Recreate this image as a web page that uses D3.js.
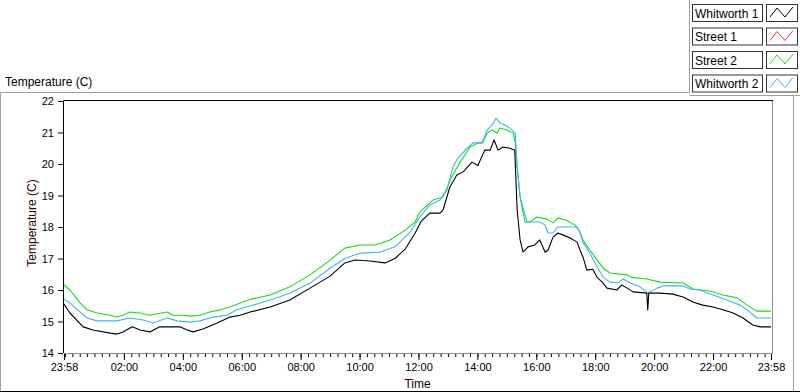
<!DOCTYPE html>
<html>
<head>
<meta charset="utf-8">
<script src="https://cdn.jsdelivr.net/npm/d3@7"></script>
<style>
  body { margin: 0; background: #fff; }
  svg { display: block; font-family: "Liberation Sans", Arial, sans-serif; }
</style>
</head>
<body>
<svg id="chart" width="800" height="392"></svg>
<script>
// series names + colours, in legend order
const seriesNames = ["Whitworth 1", "Street 1", "Street 2", "Whitworth 2"]
const seriesColors = ["#000000", "#ff3030", "#11e011", "#3cb4f5"]

// [minutes after midnight, temperature C]; start is 23:58 the night before (-2)
const whitworth1 = [
  [-2,15.55],[10,15.27],[37,14.83],[57,14.73],[92,14.63],[106,14.6],[118,14.67],[137,14.83],
  [153,14.73],[173,14.67],[193,14.83],[214,14.83],[234,14.83],[249,14.73],[261,14.67],[281,14.76],
  [310,14.95],[336,15.14],[357,15.2],[377,15.3],[418,15.46],[458,15.68],[499,16.06],[540,16.44],
  [570,16.86],[591,16.95],[621,16.92],[652,16.86],[672,17.0],[693,17.3],[713,17.8],[725,18.17],
  [743,18.44],[764,18.44],[770,18.54],[784,19.27],[798,19.65],[811,19.75],[829,20.06],[841,19.95],
  [855,20.44],[866,20.44],[874,20.76],[882,20.44],[892,20.54],[906,20.5],[916,20.44],[921,18.54],
  [927,17.59],[933,17.2],[943,17.37],[957,17.43],[967,17.59],[978,17.2],[984,17.27],[994,17.68],
  [1004,17.81],[1014,17.75],[1029,17.65],[1043,17.52],[1049,17.27],[1055,17.05],[1063,16.63],[1075,16.66],
  [1084,16.4],[1096,16.22],[1104,16.06],[1124,16.0],[1134,16.16],[1145,16.06],[1157,15.94],[1185,15.9],
  [1187,15.37],[1189,15.9],[1198,15.9],[1212,15.9],[1238,15.87],[1259,15.78],[1279,15.62],[1299,15.52],
  [1320,15.46],[1340,15.37],[1361,15.27],[1381,15.11],[1401,14.89],[1416,14.83],[1438,14.83]
]
// no Street 1 readings show on the graph
const street1 = []
const street2 = [
  [-2,16.16],[10,16.0],[31,15.59],[45,15.37],[65,15.27],[92,15.2],[106,15.14],[118,15.2],
  [132,15.3],[153,15.27],[173,15.2],[208,15.3],[220,15.2],[240,15.2],[255,15.17],[275,15.2],
  [295,15.3],[316,15.37],[336,15.46],[357,15.59],[377,15.7],[418,15.84],[458,16.1],[499,16.48],
  [540,16.95],[570,17.33],[601,17.43],[631,17.43],[662,17.59],[693,17.9],[713,18.16],[723,18.48],
  [750,18.86],[770,18.95],[788,19.6],[805,20.06],[825,20.54],[841,20.67],[851,20.67],[860,20.98],
  [870,21.08],[880,20.98],[886,21.14],[900,21.08],[913,20.98],[917,20.67],[921,19.9],[927,18.95],
  [937,18.16],[947,18.16],[961,18.32],[982,18.25],[994,18.13],[1004,18.29],[1023,18.2],[1039,18.06],
  [1049,17.84],[1055,17.59],[1069,17.27],[1084,16.95],[1096,16.7],[1110,16.54],[1145,16.48],[1155,16.4],
  [1185,16.35],[1212,16.25],[1259,16.22],[1279,16.03],[1314,15.97],[1340,15.84],[1369,15.75],[1389,15.52],
  [1409,15.33],[1438,15.33]
]
const whitworth2 = [
  [-2,15.71],[10,15.59],[31,15.3],[45,15.11],[65,15.02],[106,15.02],[132,15.11],[159,15.05],
  [179,14.95],[208,15.11],[228,15.02],[255,14.98],[275,15.02],[302,15.14],[330,15.2],[350,15.37],
  [377,15.49],[418,15.68],[458,15.9],[499,16.22],[540,16.7],[570,17.0],[601,17.17],[641,17.2],
  [672,17.37],[703,17.84],[723,18.32],[743,18.7],[764,18.86],[778,19.17],[790,19.9],[800,20.19],
  [819,20.5],[831,20.67],[849,20.67],[860,21.08],[870,21.24],[878,21.46],[886,21.3],[896,21.24],
  [906,21.14],[917,20.98],[921,19.9],[927,18.95],[941,18.16],[967,18.16],[978,18.06],[984,17.81],
  [994,17.81],[1004,18.0],[1043,18.0],[1049,17.84],[1055,17.52],[1069,17.17],[1084,16.73],[1096,16.41],
  [1110,16.25],[1126,16.22],[1137,16.35],[1151,16.22],[1171,16.1],[1187,15.9],[1206,16.06],[1218,16.13],
  [1259,16.13],[1273,16.03],[1293,16.0],[1320,15.84],[1348,15.68],[1375,15.52],[1395,15.3],[1409,15.11],
  [1438,15.11]
]

// axis ticks
const yTicks = [14, 15, 16, 17, 18, 19, 20, 21, 22]
const xMajorTicks = [-2, 120, 240, 360, 480, 600, 720, 840, 960, 1080, 1200, 1320, 1438]
const xMinorTicks = d3.range(0, 1440, 15)

const series = [whitworth1, street1, street2, whitworth2]

const svg = d3.select("#chart")
const plot = {left: 64, top: 101, right: 771, bottom: 353}

const x = d3.scaleLinear().domain([-2, 1438]).range([plot.left, plot.right])
const y = d3.scaleLinear().domain([14, 22]).range([plot.bottom, plot.top])

const pad = n => String(n).padStart(2, "0")
const clock = m => {
  const t = (m + 1440) % 1440
  return pad(Math.floor(t / 60)) + ":" + pad(t % 60)
}

// outer frame
svg.append("path").attr("d", "M0.5,392 V92.5 H689.5 V0").attr("fill", "none").attr("stroke", "#a0a0a0")
svg.append("path").attr("d", "M689.5,95.5 H800").attr("fill", "none").attr("stroke", "#a0a0a0")
svg.append("line").attr("x1", 793.5).attr("x2", 793.5).attr("y1", 95).attr("y2", 392).attr("stroke", "#a0a0a0")
svg.append("line").attr("x1", 0).attr("x2", 800).attr("y1", 391.5).attr("y2", 391.5).attr("stroke", "#000")

svg.append("text").attr("x", 5).attr("y", 86).attr("font-size", 12).attr("fill", "#000").text("Temperature (C)")

// plot box: white, dark top/left, grey right/bottom
svg.append("rect").attr("x", plot.left).attr("y", plot.top).attr("width", plot.right - plot.left + 1)
  .attr("height", plot.bottom - plot.top).attr("fill", "#fff")
svg.append("path").attr("d", `M${plot.right + 1.5},${plot.top} V${plot.bottom + 0.5} H${plot.left}`)
  .attr("fill", "none").attr("stroke", "#8c8c8c")
svg.append("path").attr("d", `M${plot.left - 0.5},${plot.bottom} V${plot.top - 0.5} H${plot.right + 2}`)
  .attr("fill", "none").attr("stroke", "#000")

// lines
const line = d3.line().x(d => x(d[0])).y(d => y(d[1]))
const drawOrder = [1, 2, 3, 0]
svg.append("g").selectAll("path").data(drawOrder).join("path")
  .attr("d", i => series[i].length ? line(series[i]) : null)
  .attr("fill", "none")
  .attr("stroke", i => seriesColors[i])
  .attr("stroke-width", 1.1)
  .attr("stroke-linejoin", "round")

// y axis
const yAxis = svg.append("g").attr("transform", `translate(${plot.left - 1},0)`)
  .call(d3.axisLeft(y).tickValues(yTicks).tickSize(5).tickPadding(4).tickFormat(d3.format("d")))
yAxis.select(".domain").remove()
yAxis.selectAll("text").attr("font-size", 11).attr("font-family", "Liberation Sans, Arial").attr("fill", "#000")

// x axis, minor then major
const xMinor = svg.append("g").attr("transform", `translate(0,${plot.bottom + 1})`)
  .call(d3.axisBottom(x).tickValues(xMinorTicks).tickSize(3).tickFormat(""))
xMinor.select(".domain").remove()
const xAxis = svg.append("g").attr("transform", `translate(0,${plot.bottom + 1})`)
  .call(d3.axisBottom(x).tickValues(xMajorTicks).tickSize(6).tickPadding(3).tickFormat(clock))
xAxis.select(".domain").remove()
xAxis.selectAll("text").attr("font-size", 11).attr("font-family", "Liberation Sans, Arial").attr("fill", "#000")

// axis titles
svg.append("text").attr("x", (plot.left + plot.right) / 2).attr("y", 388).attr("text-anchor", "middle")
  .attr("font-size", 12).attr("fill", "#200000").text("Time")
svg.append("text").attr("transform", `translate(36,${(plot.top + plot.bottom) / 2 - 4}) rotate(-90)`)
  .attr("text-anchor", "middle").attr("font-size", 12).attr("fill", "#300000").text("Temperature (C)")

// legend
const legend = svg.append("g").selectAll("g").data(seriesNames).join("g")
  .attr("transform", (d, i) => `translate(692,${4 + i * 23.5})`)
legend.append("rect").attr("x", 0.5).attr("y", 0.5).attr("width", 70).attr("height", 17)
  .attr("fill", "#fff").attr("stroke", "#333")
legend.append("text").attr("x", 3).attr("y", 13.5).attr("font-size", 12).attr("fill", "#000").text(d => d)
legend.append("rect").attr("x", 74.5).attr("y", 0.5).attr("width", 31).attr("height", 17)
  .attr("fill", "#fff").attr("stroke", "#333")
legend.append("path")
  .attr("d", "M78,13 L85,4 L93,13 L101,3")
  .attr("fill", "none").attr("stroke", (d, i) => seriesColors[i])
</script>
</body>
</html>
